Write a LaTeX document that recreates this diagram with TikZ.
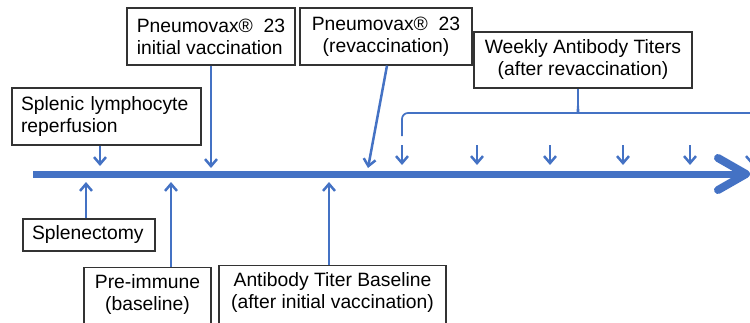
\documentclass[tikz,border=0pt]{standalone}
\usepackage{fontspec}
\setmainfont{Liberation Sans}
\usetikzlibrary{arrows.meta}
\definecolor{tlblue}{RGB}{68,114,196}
\begin{document}
\begin{tikzpicture}[x=1pt,y=-1pt,
  box/.style={draw=black!80, line width=1.1pt, fill=white, inner sep=0pt, font=\fontsize{19.3}{22}\selectfont, text=black},
  conn/.style={draw=tlblue, line width=2.5pt, -{Straight Barb[length=7pt,width=12pt,line width=2.5pt]}},
  brace/.style={draw=tlblue, line width=1.7pt},
  timeline/.style={draw=tlblue, line width=7pt}]
\useasboundingbox (0,0) rectangle (750,322);
\clip (0,0) rectangle (750,322);
% boxes
\node[box, minimum width=189pt, minimum height=57pt, text width=171pt, align=left] (splen) at (106.5,116.5) {Splenic lymphocyte\\reperfusion};
\node[box, minimum width=168pt, minimum height=57pt, align=left] (pneuA) at (211,36.5) {Pneumovax\textregistered{}\ \ 23\\initial vaccination};
\node[box, minimum width=172pt, minimum height=57pt, align=center] (pneuB) at (386,36.5) {Pneumovax\textregistered{}\ \ 23\\(revaccination)};
\node[box, minimum width=218pt, minimum height=56pt, align=center] (weekly) at (583,60) {Weekly Antibody Titers\\(after revaccination)};
\node[box, minimum width=132pt, minimum height=32pt, text width=114pt, align=left] (splx) at (89,235) {Splenectomy};
\node[box, anchor=north, minimum width=127pt, align=center, inner ysep=7pt, text depth=40pt] (preimm) at (147.5,267) {Pre-immune\\(baseline)};
\node[box, anchor=north, minimum width=227pt, align=center, inner ysep=7pt, text depth=40pt] (abbase) at (332.5,265) {Antibody Titer Baseline\\(after initial vaccination)};
% timeline
\coordinate (tstart) at (33,174);
\coordinate (tend) at (744,174);
\draw[timeline] (tstart) -- (tend);
\coordinate (hA) at (718,158);
\coordinate (hB) at (746,174);
\coordinate (hC) at (718,190);
\draw[timeline, line width=8pt, line cap=round, line join=round] (hA) -- (hB) -- (hC);
% targets on timeline
\coordinate (dSplen) at (100,166);
\coordinate (dPneuA) at (211,168);
\coordinate (dPneuB) at (368,168);
\coordinate (sPneuB) at (387,64);
\coordinate (uSplx) at (86,182);
\coordinate (uPre) at (171,182);
\coordinate (uAb) at (329,182);
\draw[conn] (splen.south -| dSplen) -- (dSplen);
\draw[conn] (pneuA.south -| dPneuA) -- (dPneuA);
\draw[conn] (pneuB.south -| sPneuB) -- (dPneuB);
\draw[conn] (splx.north -| uSplx) -- (uSplx);
\draw[conn] (preimm.north -| uPre) -- (uPre);
\draw[conn] (abbase.north -| uAb) -- (uAb);
% weekly arrows
\foreach \i/\x in {1/402,2/477,3/550,4/623,5/690,6/752}{
  \coordinate (ws\i) at (\x,145);
  \coordinate (we\i) at (\x,165);
  \draw[conn] (ws\i) -- (we\i);
}
% brace
\coordinate (bL) at (402,136);
\coordinate (bR) at (756,136);
\coordinate (bTip) at (578,102);
\draw[brace, rounded corners=6pt] (bL) -- (402,113) -- (572,113) to[out=0,in=-90] (bTip);
\draw[brace, rounded corners=6pt] (bTip) to[out=-90,in=180] (584,113) -- (756,113) -- (bR);
\draw[brace] (bTip) -- (weekly.south -| bTip);
\end{tikzpicture}
\end{document}
